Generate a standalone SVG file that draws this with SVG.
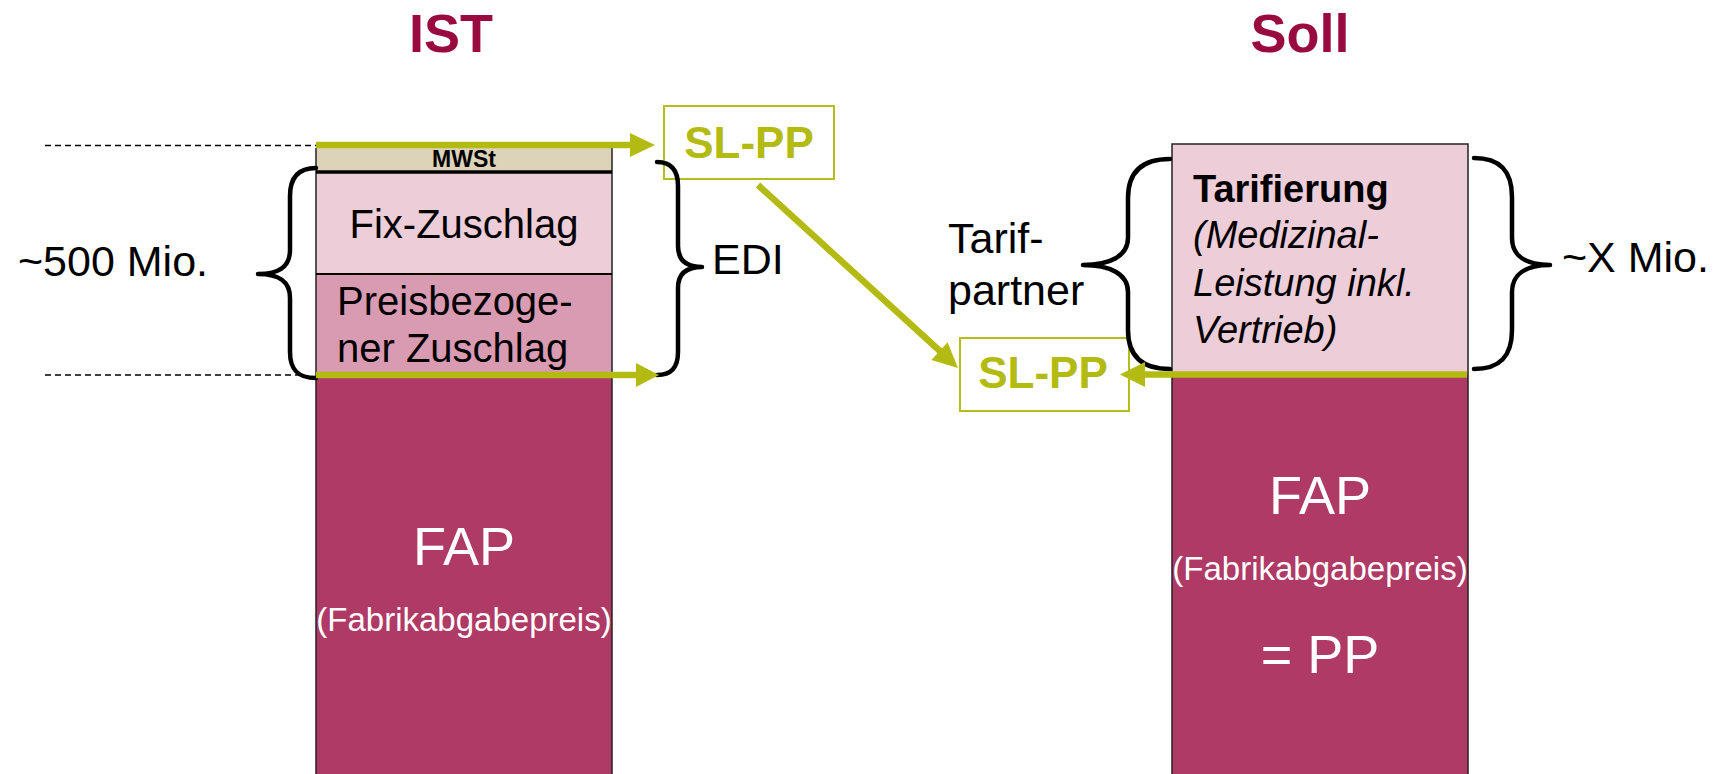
<svg xmlns="http://www.w3.org/2000/svg" width="1722" height="774" viewBox="0 0 1722 774">
<style>
text{font-family:"Liberation Sans",Arial,sans-serif;}
.title{font-size:54px;font-weight:bold;fill:#990A40;text-anchor:middle;}
.lbl{font-size:40px;fill:#000;}
.big{font-size:43px;fill:#000;}
.white{fill:#fff;text-anchor:middle;}
.slpp{font-size:44px;font-weight:bold;fill:#B3BB12;text-anchor:middle;}
.box{fill:#fff;stroke:#B5BD1B;stroke-width:2;}
.brace{fill:none;stroke:#000;stroke-width:4.5;stroke-linecap:round;stroke-linejoin:round;}
.dash{stroke:#000;stroke-width:1.6;stroke-dasharray:6 4;}
.gl{stroke:#B3BB12;stroke-width:6.5;fill:none;}
.gh{fill:#B3BB12;}
.maroon{fill:#AE3A65;}
.light{fill:#ECCDD8;}
.mid{fill:#D89BB1;}
.beige{fill:#DDD3B8;}
.edge{stroke:#222;stroke-width:1.5;fill:none;}
</style>

<g id="titles">
<text class="title" x="451" y="52">IST</text>
<text class="title" x="1300" y="52">Soll</text>
</g>

<g id="ist-column">
<rect class="beige" x="316" y="148" width="296" height="24"/>
<rect class="light" x="316" y="172" width="296" height="102"/>
<rect class="mid" x="316" y="274" width="296" height="101"/>
<rect class="maroon" x="316" y="375" width="296" height="400"/>
<line x1="316" y1="148" x2="316" y2="774" class="edge"/>
<line x1="612" y1="148" x2="612" y2="774" class="edge"/>
<line x1="316" y1="172" x2="612" y2="172" stroke="#000" stroke-width="3.5"/>
<line x1="316" y1="274" x2="612" y2="274" stroke="#000" stroke-width="2"/>
<text x="464" y="167" font-size="23" font-weight="bold" text-anchor="middle">MWSt</text>
<text class="lbl" x="464" y="238" text-anchor="middle" font-size="39.5">Fix-Zuschlag</text>
<text class="lbl" x="337" y="315" font-size="39.5">Preisbezoge-</text>
<text class="lbl" x="337" y="362" font-size="39.5">ner Zuschlag</text>
<text class="white" x="464" y="565" font-size="54">FAP</text>
<text class="white" x="464" y="631" font-size="33">(Fabrikabgabepreis)</text>
</g>

<g id="soll-column">
<rect class="light" x="1172" y="144" width="296" height="231"/>
<rect class="maroon" x="1172" y="375" width="296" height="400"/>
<rect x="1172" y="144" width="296" height="640" class="edge"/>
<text x="1193" y="202" font-size="38" font-weight="bold">Tarifierung</text>
<text x="1193" y="248" font-size="38" font-style="italic">(Medizinal-</text>
<text x="1193" y="296" font-size="38" font-style="italic">Leistung inkl.</text>
<text x="1193" y="343" font-size="38" font-style="italic">Vertrieb)</text>
<text class="white" x="1320" y="514" font-size="54">FAP</text>
<text class="white" x="1320" y="580" font-size="33">(Fabrikabgabepreis)</text>
<text class="white" x="1320" y="673" font-size="54">= PP</text>
</g>

<g id="sl-pp-top">
<rect class="box" x="664" y="106" width="170" height="73"/>
<text class="slpp" x="749" y="158">SL-PP</text>
</g>

<g id="sl-pp-bottom">
<rect class="box" x="960" y="338" width="169" height="73"/>
<text class="slpp" x="1043" y="388">SL-PP</text>
</g>

<g id="annotations">
<line class="dash" x1="45" y1="145.5" x2="316" y2="145.5"/>
<line class="dash" x1="45" y1="375" x2="300" y2="375"/>
<path class="brace" d="M316,168 C298,168 290,178 290,196 L290,250 C290,266 280,274 258,274 C280,274 290,282 290,298 L290,352 C290,370 298,378 316,378"/>
<text class="big" x="18" y="276">~500 Mio.</text>
<path class="brace" d="M657,162 C671,162 678,170 678,186 L678,246 C678,260 686,267 702,267 C686,267 678,274 678,288 L678,352 C678,368 671,375 657,375"/>
<text class="big" x="712" y="274">EDI</text>
<path class="brace" d="M1170,159 C1142,159 1128,172 1128,198 L1128,238 C1128,256 1110,265 1083,265 C1110,265 1128,274 1128,292 L1128,330 C1128,356 1142,369 1170,369"/>
<text class="big" x="948" y="253">Tarif-</text>
<text class="big" x="948" y="305">partner</text>
<path class="brace" d="M1474,158 C1500,158 1512,171 1512,197 L1512,238 C1512,256 1526,265 1550,265 C1526,265 1512,274 1512,292 L1512,330 C1512,356 1500,369 1474,369"/>
<text class="big" x="1562" y="272">~X Mio.</text>
</g>

<g id="connectors">
<line class="gl" x1="316" y1="145" x2="632" y2="145"/>
<polygon class="gh" points="630,133 655,145 630,157"/>
<line class="gl" x1="316" y1="375" x2="638" y2="375"/>
<polygon class="gh" points="636,363 659,375 636,387"/>
<line class="gl" x1="758" y1="185" x2="941" y2="352"/>
<polygon class="gh" points="931.4,360 958,368 947.6,342.2"/>
<line class="gl" x1="1467" y1="374.5" x2="1143" y2="374.5"/>
<polygon class="gh" points="1145,362 1120,374.5 1145,387"/>
</g>
</svg>
